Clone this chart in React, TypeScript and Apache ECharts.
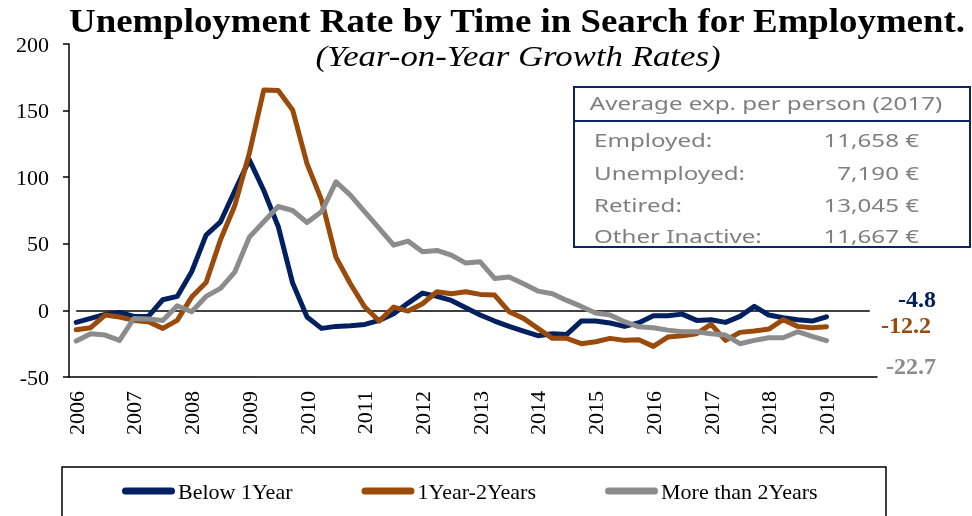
import React, { useEffect, useRef } from "react";
import * as echarts from "echarts";

const years = ["2006", "2007", "2008", "2009", "2010", "2011", "2012", "2013", "2014", "2015", "2016", "2017", "2018", "2019"];
const quarters = ["Q1", "Q2", "Q3", "Q4"];
const categories = years.flatMap((y) => quarters.map((q) => `${y} ${q}`));

const seriesNames = ["Below 1Year", "1Year-2Years", "More than 2Years"];
const seriesColors = ["#002060", "#9A4A0A", "#8C8C8C"];

const below1Year = [-9, -6, -3, -1.5, -4.5, -4.5, 8, 10.5, 29, 56.5, 66.5, 90, 113, 90, 63, 20.5, -5, -13.5, -12, -11.5, -10.5, -7.5, -2.5, 5.5, 13, 10.5, 7.5, 2, -3.5, -8, -12, -15.5, -19, -17.5, -18, -8, -8, -9.5, -12, -9.3, -4, -4, -2.8, -7.5, -7, -9, -4.5, 3, -3.5, -5.5, -7, -8, -4.8];
const year1to2 = [-14.5, -13, -3.5, -5, -7.5, -8.5, -13.5, -7.5, 10, 21, 53, 79, 118, 165.5, 165, 150.5, 110, 83, 40, 20, 2.5, -8, 2.5, -0.5, 5, 14, 12.5, 14, 12, 11.5, -1, -6, -13.5, -21, -21, -25, -23.5, -21, -22.5, -22, -27, -20, -19, -17.5, -10.5, -22.5, -16.5, -15.5, -14, -7, -12, -13, -12.2];
const moreThan2 = [-23, -17.5, -18.5, -22.5, -6, -6.5, -7.5, 3.5, -1, 10.5, 16.5, 29, 55, 66.5, 78, 75, 66, 74, 96.5, 86.5, 74, 61.5, 49, 52, 44, 45, 41.5, 35.5, 36.5, 24, 25, 20, 14.5, 12.5, 7.5, 3, -2, -3.5, -8.5, -12.3, -13, -14.8, -16, -16, -17.5, -18.5, -25, -22.5, -20.5, -20.5, -16, -19.5, -22.7];
const seriesData = [below1Year, year1to2, moreThan2];

const endLabels = ["-4.8", "-12.2", "-22.7"];

const titleText = "Unemployment Rate by Time in Search for Employment.";
const subtitleText = "(Year-on-Year Growth Rates)";
const boxHeader = "Average exp. per person (2017)";
const boxLabels = ["Employed:", "Unemployed:", "Retired:", "Other Inactive:"];
const boxValues = ["11,658 €", "7,190 €", "13,045 €", "11,667 €"];

const SERIF = "'Liberation Serif', 'DejaVu Serif', serif";
const SANS = "'Noto Sans', 'Open Sans', sans-serif";

export default function App() {
  const ref = useRef<HTMLDivElement>(null);
  useEffect(() => {
    if (!ref.current) return;
    const chart = echarts.init(ref.current, null, { renderer: "svg" });
    const rowY = [140, 173, 205, 236];
    const endY = [299, 325, 366];
    const endX = [936, 931, 936];
    const boxScale = 1.27;
    const graphic: any[] = [
      {
        type: "text",
        x: 517,
        y: 21,
        scaleX: 1.117,
        style: { text: titleText, font: `bold 33px ${SERIF}`, fill: "#000", align: "center", verticalAlign: "middle" },
      },
      {
        type: "text",
        x: 518,
        y: 56,
        scaleX: 1.2,
        style: { text: subtitleText, font: `italic 29px ${SERIF}`, fill: "#000", align: "center", verticalAlign: "middle" },
      },
      {
        type: "rect",
        shape: { x: 574, y: 87, width: 396, height: 160 },
        style: { fill: "#fff", stroke: "#0B2462", lineWidth: 2 },
        z: 10,
      },
      {
        type: "line",
        shape: { x1: 574, y1: 121, x2: 970, y2: 121 },
        style: { stroke: "#0B2462", lineWidth: 2 },
        z: 11,
      },
      {
        type: "text",
        x: 766,
        y: 103,
        z: 12,
        scaleX: boxScale,
        style: { text: boxHeader, font: `19px ${SANS}`, fill: "#7F7F7F", align: "center", verticalAlign: "middle" },
      },
      ...boxLabels.map((t, i) => ({
        type: "text",
        x: 594,
        y: rowY[i],
        z: 12,
        scaleX: boxScale,
        style: { text: t, font: `19px ${SANS}`, fill: "#7F7F7F", align: "left", verticalAlign: "middle" },
      })),
      ...boxValues.map((t, i) => ({
        type: "text",
        x: 919,
        y: rowY[i],
        z: 12,
        scaleX: boxScale,
        style: { text: t, font: `19px ${SANS}`, fill: "#7F7F7F", align: "right", verticalAlign: "middle" },
      })),
      ...endLabels.map((t, i) => ({
        type: "text",
        x: endX[i],
        y: endY[i],
        style: { text: t, font: `bold 24px ${SERIF}`, fill: seriesColors[i], align: "right", verticalAlign: "middle" },
      })),
      {
        type: "rect",
        shape: { x: 62, y: 467, width: 824, height: 70 },
        style: { fill: "none", stroke: "#000", lineWidth: 1.5 },
      },
    ];

    chart.setOption({
      animation: false,
      textStyle: { fontFamily: SERIF },
      grid: { left: 69, right: 95, top: 44, bottom: 139, containLabel: false },
      legend: {
        data: seriesNames,
        left: 122,
        top: 480,
        padding: 0,
        itemWidth: 53,
        itemHeight: 7,
        itemGap: 69,
        icon: "path://M3.5,0 L49.5,0 A3.5,3.5 0 0 1 49.5,7 L3.5,7 A3.5,3.5 0 0 1 3.5,0 Z",
        textStyle: { fontFamily: SERIF, fontSize: 22, color: "#000", padding: [0, 0, 0, -2] },
      },
      xAxis: {
        type: "category",
        data: categories,
        boundaryGap: true,
        axisLine: { onZero: false, lineStyle: { color: "#000", width: 1.5 } },
        axisTick: { interval: 3, length: 6, alignWithLabel: false, lineStyle: { color: "#000", width: 1.5 } },
        axisLabel: {
          interval: 3,
          rotate: 90,
          margin: 14,
          fontSize: 22,
          color: "#000",
          fontFamily: SERIF,
          formatter: (v: string) => v.split(" ")[0],
        },
        splitLine: { show: false },
      },
      yAxis: {
        type: "value",
        min: -50,
        max: 200,
        interval: 50,
        axisLine: { show: true, lineStyle: { color: "#000", width: 1.5 } },
        axisTick: { show: true, length: 6, lineStyle: { color: "#000", width: 1.5 } },
        axisLabel: { fontSize: 22, color: "#000", margin: 20, fontFamily: SERIF },
        splitLine: { show: false },
      },
      series: seriesNames.map((name, i) => ({
        name,
        type: "line",
        data: seriesData[i],
        symbol: "none",
        lineStyle: { color: seriesColors[i], width: 5, cap: "round", join: "round" },
        itemStyle: { color: seriesColors[i] },
        z: 3 + i,
        markLine:
          i === 0
            ? {
                silent: true,
                symbol: "none",
                label: { show: false },
                lineStyle: { color: "#000", width: 1.5, type: "solid" },
                data: [[{ xAxis: categories[0], yAxis: 0 }, { xAxis: categories[categories.length - 1], yAxis: 0 }]],
                z: 1,
              }
            : undefined,
      })),
      graphic,
    });
    return () => chart.dispose();
  }, []);
  return <div ref={ref} style={{ position: "fixed", left: 0, top: 0, width: 972, height: 516 }} />;
}
